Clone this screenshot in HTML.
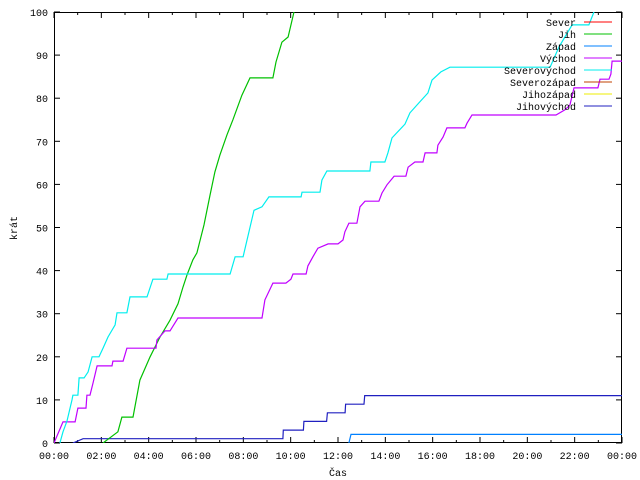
<!DOCTYPE html>
<html><head><meta charset="utf-8"><style>
html,body{margin:0;padding:0;background:#fff}
svg{display:block;font-family:"Liberation Mono",monospace;font-size:10px}
</style></head><body>
<svg id="chart" width="640" height="480" viewBox="0 0 640 480" xmlns="http://www.w3.org/2000/svg">
<rect x="0" y="0" width="640" height="480" fill="#fff"/>
<g id="grid"></g>
<g id="series"></g>
<g id="legend"></g>
<text x="338" y="476" text-anchor="middle">Čas</text>
<text x="0" y="0" transform="translate(17,228) rotate(-90)" text-anchor="middle">krát</text>
</svg>
<script>
const xTickLabels = ["00:00","02:00","04:00","06:00","08:00","10:00","12:00","14:00","16:00","18:00","20:00","22:00","00:00"];
const yTickLabels = ["0","10","20","30","40","50","60","70","80","90","100"];
const seriesNames = ["Sever","Jih","Západ","Východ","Severovýchod","Severozápad","Jihozápad","Jihovýchod"];
const seriesColors = ["#ff0000","#00c000","#0080ff","#c000ff","#00eeee","#c04000","#eeee00","#2020c0"];
const severT = [], severV = [];
const jihT = [2.07,2.70,2.87,3.34,3.63,4.06,4.48,4.90,5.24,5.45,5.62,5.87,6.04,6.34,6.59,6.80,7.01,7.31,7.56,7.94,8.28,9.25,9.38,9.63,9.89,10.16];
const jihV = [0,2.6,6,6,14.6,20,24.6,28.5,32.3,36.2,39,42.5,44.1,50.6,57.5,62.9,66.8,71.5,75,80.7,84.7,84.7,88.4,93,94.2,100.5];
const zapadT = [12.46,12.55,24];
const zapadV = [0,2,2];
const vychodT = [0,0.38,0.89,1.01,1.35,1.39,1.52,1.65,1.82,2.45,2.49,2.92,3.08,4.31,4.35,4.69,4.90,5.24,8.79,8.91,9.25,9.80,10.01,10.10,10.65,10.73,10.94,11.15,11.58,12.00,12.21,12.29,12.46,12.80,12.93,13.14,13.73,13.86,14.07,14.37,14.87,14.96,15.25,15.59,15.68,16.18,16.22,16.44,16.60,17.36,17.45,17.66,21.21,21.59,21.80,21.97,22.98,23.07,23.45,23.53,23.58,24];
const vychodV = [0,4.9,4.9,8.1,8.1,11.1,11.1,13.9,17.9,17.9,19,19,22,22,23.9,26,26,29,29,33.2,37.1,37.1,38,39.2,39.2,41.1,43.2,45.2,46.2,46.2,47.1,49,51,51,54.8,56.1,56.1,58,59.9,61.9,61.9,64,65.2,65.2,67.3,67.3,69.1,71,73.1,73.1,74.2,76.1,76.1,77.3,78.4,82.4,82.4,84.4,84.4,85.6,88.6,88.6];
const sevvychT = [0.25,0.38,0.55,0.76,0.80,1.01,1.06,1.27,1.44,1.61,1.90,2.07,2.28,2.58,2.66,3.08,3.21,3.93,4.18,4.77,4.82,7.44,7.65,7.99,8.45,8.79,9.08,10.44,10.48,11.24,11.32,11.53,13.35,13.39,13.98,14.11,14.28,14.83,15.04,15.42,15.80,15.97,16.35,16.73,20.96,21.34,21.89,22.60,22.85];
const sevvychV = [0,2.6,5.1,10,11.1,11.1,15.1,15.1,16.5,20,20,22,24.6,27.4,30.2,30.2,33.9,33.9,38,38,39.2,39.2,43.2,43.2,54,54.8,57.1,57.1,58.2,58.2,61,63.1,63.1,65.2,65.2,67.3,70.8,74,76.6,78.9,81.2,84.2,86.1,87.2,87.2,91.9,97,97,100.5];
const sevzapT = [], sevzapV = [];
const jihzapT = [], jihzapV = [];
const jihvychT = [0.80,1.23,9.67,9.69,10.54,10.56,11.52,11.55,12.30,12.32,13.10,13.13,24];
const jihvychV = [0,1,1,3,3,5,5,7,7,9,9,11,11];

const X0=54,X1=622,Y0=443,Y1=12;
function xs(t){return X0+(t/24)*(X1-X0);}
function ys(v){return Y0-(v/100)*(Y0-Y1);}
const NS="http://www.w3.org/2000/svg";
function mk(tag,attrs,parent){const e=document.createElementNS(NS,tag);for(const k in attrs)e.setAttribute(k,attrs[k]);parent.appendChild(e);return e;}

const grid=document.getElementById('grid');
// x ticks every hour
for(let h=0;h<=24;h++){
  const x=xs(h);const len=(h%2===0)?6:3;
  const t=mk('line',{x1:x,y1:Y0,x2:x,y2:Y0-len,stroke:'#000','stroke-width':1},grid);
  
  
  const t2=mk('line',{x1:x,y1:Y1,x2:x,y2:Y1+len,stroke:'#000','stroke-width':1},grid);
  
  
}
xTickLabels.forEach((lab,i)=>{
  const tx=mk('text',{x:xs(i*2),y:459,'text-anchor':'middle'},grid);
  tx.textContent=lab;
  
  
});
yTickLabels.forEach((lab,i)=>{
  const y=ys(i*10);
  const t=mk('line',{x1:X0,y1:y,x2:X0+6,y2:y,stroke:'#000','stroke-width':1},grid);
  
  
  const t2=mk('line',{x1:X1,y1:y,x2:X1-6,y2:y,stroke:'#000','stroke-width':1},grid);
  
  
  const tx=mk('text',{x:48,y:y+4,'text-anchor':'end'},grid);
  tx.textContent=lab;
  
  
});
const frame=mk('rect',{x:X0+0.5,y:Y1+0.5,width:X1-X0-1,height:Y0-Y1-1,fill:'none',stroke:'#000','stroke-width':1},grid);



const sT=[severT,jihT,zapadT,vychodT,sevvychT,sevzapT,jihzapT,jihvychT];
const sV=[severV,jihV,zapadV,vychodV,sevvychV,sevzapV,jihzapV,jihvychV];
const series=document.getElementById('series');
mk('clipPath',{id:'clip'},series).appendChild(document.createElementNS(NS,'rect'));
const cr=series.querySelector('#clip rect');cr.setAttribute('x',X0);cr.setAttribute('y',Y1);cr.setAttribute('width',X1-X0);cr.setAttribute('height',Y0-Y1);
const drawOrder=[7,2,1,3,4,0,5,6];
drawOrder.forEach(i=>{
  if(!sT[i].length)return;
  const pts=sT[i].map((t,j)=>xs(t).toFixed(1)+','+ys(sV[i][j]).toFixed(1)).join(' ');
  const p=mk('polyline',{points:pts,fill:'none',stroke:seriesColors[i],'stroke-width':1.2,'clip-path':'url(#clip)'},series);
  
  
});

const legend=document.getElementById('legend');
seriesNames.forEach((n,i)=>{
  const y=22+i*12;
  const tx=mk('text',{x:576,y:y+4,'text-anchor':'end'},legend);
  tx.textContent=n;
  
  
  const l=mk('line',{x1:584,y1:y,x2:612,y2:y,stroke:seriesColors[i],'stroke-width':1},legend);
  
  
});
</script>
</body></html>
